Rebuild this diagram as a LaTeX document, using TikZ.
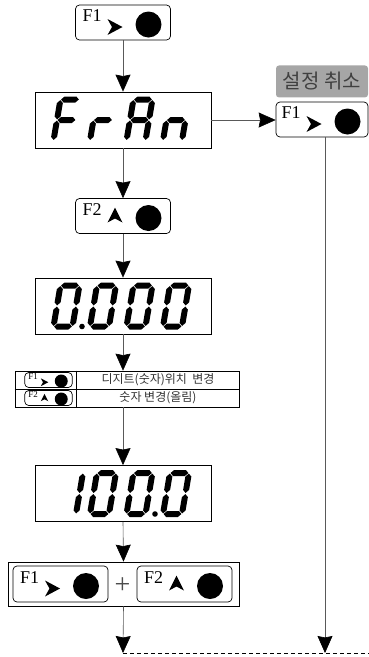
\documentclass[tikz,border=0pt]{standalone}
\usepackage{fontspec}
\setmainfont{Liberation Serif}
\newfontfamily\krfont{Noto Sans CJK KR}
\usetikzlibrary{arrows.meta,positioning}

\newcommand{\hseg}[1]{\fill (0.6,#1) -- (3.6,{#1+3}) -- (15.4,{#1+3}) -- (18.4,#1) -- (15.4,{#1-3}) -- (3.6,{#1-3}) -- cycle;}
\newcommand{\vseg}[3]{\fill (#1,#2) -- ({#1+3},{#2+3}) -- ({#1+3},{#3-3}) -- (#1,#3) -- ({#1-3},{#3-3}) -- ({#1-3},{#2+3}) -- cycle;}
\newcommand{\lcda}{\hseg{41}}
\newcommand{\lcdb}{\vseg{19}{21.1}{40.4}}
\newcommand{\lcdc}{\vseg{19}{0.6}{19.9}}
\newcommand{\lcdd}{\hseg{0}}
\newcommand{\lcde}{\vseg{0}{0.6}{19.9}}
\newcommand{\lcdf}{\vseg{0}{21.1}{40.4}}
\newcommand{\lcdg}{\hseg{20.5}}
\newcommand{\lcdchar}[3]{\begin{scope}[shift={(#1,#2)},x=1pt,y=1pt,xslant=0.17]
  \foreach \s in {#3}{\csname lcd\s\endcsname}
\end{scope}}
\newcommand{\lcddot}[2]{\fill (#1,#2) circle[radius=2.8];}

\newcommand{\chevr}{\fill (-15.5,-3.5) -- (-0.5,4.5) -- (-15.5,12.5) -- (-11,4.5) -- cycle;}
\newcommand{\chevu}{\fill (-15.5,6.5) -- (-8,-8.5) -- (-0.5,6.5) -- (-8,2.5) -- cycle;}
\newcommand{\fkey}[8]{\begin{scope}[shift={(#2,#3)},scale=#6,transform shape]
  \node[keybox,minimum width=#4pt,minimum height=#5pt] (#1) at (0,0) {};
  \node[keytxt,anchor=base west] (#1-lbl) at (-40.5,-1) {#7};
  \csname chev#8\endcsname
  \fill (25.5,2) circle[radius=13];
\end{scope}}

\begin{document}
\begin{tikzpicture}[x=1pt,y=-1pt,
    keybox/.style={draw,rounded corners=4pt,line width=0.7pt,inner sep=0pt},
    keytxt/.style={font=\fontsize{18}{18}\selectfont,inner sep=0pt},
    lcd/.style={draw,line width=0.8pt,minimum width=176pt,minimum height=56pt,inner sep=0pt},
    frame/.style={draw,line width=0.7pt,inner sep=0pt},
    tag/.style={fill=black!35,rounded corners=3pt,text=black!75,inner sep=0pt,
                font=\krfont\fontsize{20}{20}\selectfont,minimum width=92pt,minimum height=32pt},
    cell/.style={font=\krfont\fontsize{12}{12}\selectfont,text=black!80,inner sep=0pt},
    flow/.style={draw=black!65,line width=0.6pt,-{Stealth[length=17pt,width=15pt,inset=1.5pt,color=black]}},
    dashline/.style={draw=black,line width=0.6pt,dash pattern=on 4pt off 3pt}]
  \useasboundingbox (0,0) rectangle (369,657);

  \fkey{start}{123}{22.5}{95}{35}{1}{F1}{r}

  \node[lcd] (fran) at (123,120) {};
  \lcdchar{53.5}{140.5}{a,e,f,g}
  \lcdchar{90}{140.5}{e,g}
  \lcdchar{126.5}{140.5}{a,b,c,e,f,g}
  \lcdchar{163}{140.5}{c,e,g}

  \fkey{cancel}{322}{119.5}{92}{35}{1}{F1}{r}
  \node[tag,above=4pt of cancel] (canceltag) {설정 취소};

  \fkey{up}{123}{216}{95}{35}{1}{F2}{u}

  \node[lcd] (zero) at (123,306) {};
  \foreach \x in {53.5,90,126.5,163}
    \lcdchar{\x}{326.5}{a,b,c,d,e,f};
  \lcddot{82}{326.5}

  \node[frame,minimum width=224pt,minimum height=36pt] (tbl) at (127,389) {};
  \coordinate (colsep) at (76,389);
  \draw[line width=0.5pt] (tbl.west) -- (tbl.east);
  \draw[line width=0.5pt] (tbl.north -| colsep) -- (tbl.south -| colsep);
  \fkey{tkeyA}{48.5}{380}{95}{30}{0.5}{F1}{r}
  \fkey{tkeyB}{48.5}{398}{95}{30}{0.5}{F2}{u}
  \node[cell] (txtA) at (158,380) {디지트(숫자)위치~~변경};
  \node[cell] (txtB) at (158,398) {숫자 변경(올림)};

  \node[lcd] (hundred) at (123,493.5) {};
  \lcdchar{57}{514}{b,c}
  \foreach \x in {90,126.5,163}
    \lcdchar{\x}{514}{a,b,c,d,e,f};
  \lcddot{155}{514}

  \node[frame,minimum width=231pt,minimum height=44pt] (combo) at (123.5,584) {};
  \fkey{comboA}{60.5}{584}{95}{36}{1}{F1}{r}
  \fkey{comboB}{184.5}{584}{95}{36}{1}{F2}{u}
  \node[font=\fontsize{28}{28}\selectfont,text=black!70,inner sep=0pt] (plus) at (122.5,586) {+};

  \coordinate (endL) at (123,653);
  \coordinate (endR) at (325,653);
  \coordinate (endX) at (369,653);

  \draw[flow] (start.south) -- (fran.north);
  \draw[flow] (fran.east) -- (fran.east -| cancel.west);
  \draw[flow] (fran.south) -- (up.north);
  \draw[flow] (up.south) -- (zero.north);
  \draw[flow] (zero.south) -- (zero.south |- tbl.north);
  \draw[flow] (tbl.south -| hundred.north) -- (hundred.north);
  \draw[flow] (hundred.south) -- (combo.north);
  \draw[flow] (combo.south) -- (endL);
  \draw[flow] (cancel.south -| endR) -- (endR);
  \draw[dashline] (endL) -- (endX);
\end{tikzpicture}
\end{document}
